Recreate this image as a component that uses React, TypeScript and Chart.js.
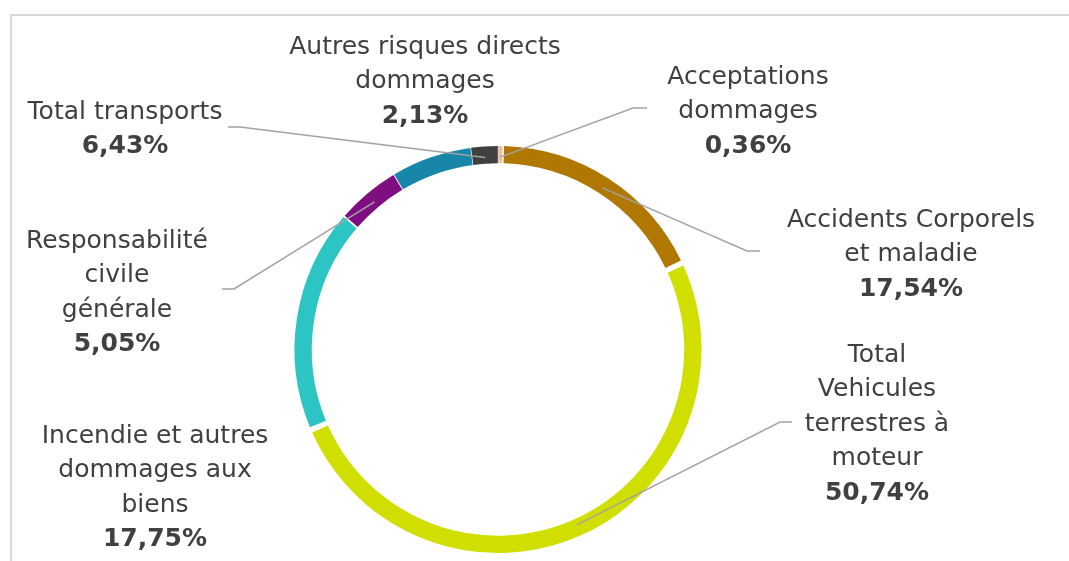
import React, { useEffect, useRef } from "react";
import { Chart, registerables } from "chart.js";

Chart.register(...registerables);

const categories = [
  "Acceptations dommages",
  "Accidents Corporels et maladie",
  "Total Vehicules terrestres à moteur",
  "Incendie et autres dommages aux biens",
  "Responsabilité civile générale",
  "Total transports",
  "Autres risques directs dommages",
];
const shares = [0.36, 17.54, 50.74, 17.75, 5.05, 6.43, 2.13];
const colors = ["#EBC2A8", "#B07800", "#D0DF00", "#2CC5C4", "#7F0F80", "#1886A9", "#404040"];
const labelLines = [
  ["Acceptations", "dommages"],
  ["Accidents Corporels", "et maladie"],
  ["Total", "Vehicules", "terrestres à", "moteur"],
  ["Incendie et autres", "dommages aux", "biens"],
  ["Responsabilité", "civile", "générale"],
  ["Total transports"],
  ["Autres risques directs", "dommages"],
];

// label layout (centre x, first line y)
const labelPos = [
  { x: 748, y: 77 },
  { x: 911, y: 220 },
  { x: 877, y: 355 },
  { x: 155, y: 436 },
  { x: 117, y: 241 },
  { x: 125, y: 112 },
  { x: 425, y: 47 },
];
// leader lines: label start points and target segment
const leaders = [
  { pts: [[647, 108], [633, 108]], seg: 0 },
  { pts: [[760, 251], [747, 251]], seg: 1 },
  { pts: [[792, 422], [780, 422]], seg: 2 },
  { pts: [[222, 289], [234, 289]], seg: 4 },
  { pts: [[228, 127], [240, 127]], seg: 6 },
];

const LINE_H = 34.5;
const FONT = '"DejaVu Sans", sans-serif';

const labelPlugin = {
  id: "labelPlugin",
  afterDraw(chart: any) {
    const ctx = chart.ctx;
    const meta = chart.getDatasetMeta(0);
    ctx.save();
    ctx.strokeStyle = "#A3A3A3";
    ctx.lineWidth = 1.5;
    leaders.forEach((l) => {
      const arc = meta.data[l.seg] as any;
      const p = arc.getProps(["x", "y", "startAngle", "endAngle", "innerRadius", "outerRadius"], true);
      const a = (p.startAngle + p.endAngle) / 2;
      const r = (p.innerRadius + p.outerRadius) / 2;
      const tx = p.x + Math.cos(a) * r;
      const ty = p.y + Math.sin(a) * r;
      ctx.beginPath();
      ctx.moveTo(l.pts[0][0], l.pts[0][1]);
      for (let i = 1; i < l.pts.length; i++) ctx.lineTo(l.pts[i][0], l.pts[i][1]);
      ctx.lineTo(tx, ty);
      ctx.stroke();
    });
    ctx.fillStyle = "#404040";
    ctx.textAlign = "center";
    ctx.textBaseline = "middle";
    categories.forEach((_, i) => {
      const pos = labelPos[i];
      const lines = labelLines[i];
      ctx.font = `normal 25px ${FONT}`;
      lines.forEach((t, j) => ctx.fillText(t, pos.x, pos.y + j * LINE_H));
      ctx.font = `bold 25px ${FONT}`;
      const pct = shares[i].toFixed(2).replace(".", ",") + "%";
      ctx.fillText(pct, pos.x, pos.y + lines.length * LINE_H);
    });
    ctx.restore();
  },
};

export default function App() {
  const ref = useRef<HTMLCanvasElement>(null);
  useEffect(() => {
    const chart = new Chart(ref.current!, {
      type: "doughnut",
      data: {
        labels: categories,
        datasets: [
          {
            data: shares,
            backgroundColor: colors,
            borderWidth: 0,
            spacing: 5,
          },
        ],
      },
      options: {
        animation: false,
        responsive: false,
        cutout: "91.4%",
        layout: { padding: { top: 146, bottom: 8, left: 294.5, right: 367.5 } },
        plugins: { legend: { display: false }, tooltip: { enabled: false } },
      },
      plugins: [labelPlugin],
    });
    return () => chart.destroy();
  }, []);
  return (
    <div style={{ position: "fixed", left: 0, top: 0, width: 1069, height: 561, background: "#fff", overflow: "hidden" }}>
      <div
        style={{
          position: "absolute",
          left: 10,
          top: 14,
          width: 1100,
          height: 600,
          borderLeft: "2px solid #D9D9D9",
          borderTop: "2px solid #D9D9D9",
        }}
      />
      <canvas ref={ref} width={1069} height={561} style={{ position: "absolute", left: 0, top: 0 }} />
    </div>
  );
}
